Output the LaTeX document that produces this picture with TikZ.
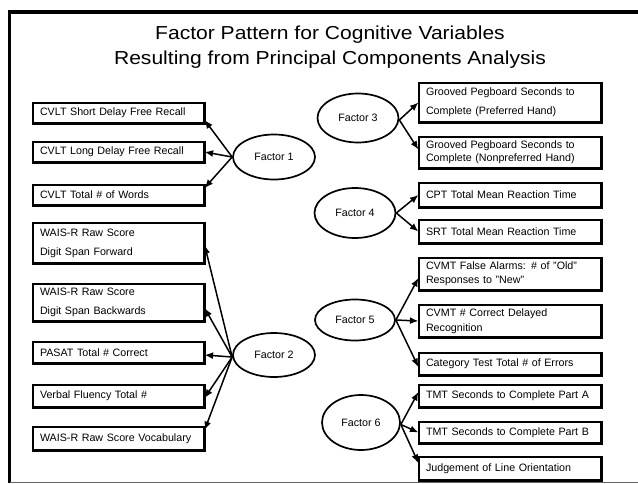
\documentclass[tikz,border=0pt]{standalone}
\usepackage{fontspec}
\usepackage{graphicx}
\setmainfont{Liberation Sans}
\usetikzlibrary{arrows.meta,shapes.geometric}

\begin{document}
\begin{tikzpicture}[x=1pt,y=-1pt,
  item/.style={draw, line width=1.2pt, rectangle, inner xsep=7pt, inner ysep=0pt,
    align=left, font=\fontsize{10.7}{12.6}\selectfont},
  leftitem/.style={item, text width=157pt},
  rightitem/.style={item, text width=168pt},
  factor/.style={draw, ellipse, line width=1.7pt, inner sep=0pt,
    font=\fontsize{10.7}{12.6}\selectfont},
  link/.style={line width=1.5pt, -{Latex[length=8.5pt,width=7pt]}},
  heading/.style={font=\fontsize{18.8}{22}\selectfont, anchor=base},
  shadowedge/.style={line width=1.6pt}
]
\useasboundingbox (0,0) rectangle (638,483);

% outer frame (left, top, bottom rule)
\draw[line width=3.5pt] (9.5,483) -- (9.5,12) -- (638,12);
\draw[line width=0.8pt, black!60] (9.5,482) -- (638,482);

% heading
\node[heading] (t1) at (330,39.5) {\scalebox{1.12}[1]{Factor Pattern for Cognitive Variables}};
\node[heading] (t2) at (330,64) {\scalebox{1.12}[1]{Resulting from Principal Components Analysis}};

% left column of variables
\node[leftitem, minimum height=20pt] (b1) at (118.5,113) {CVLT Short Delay Free Recall};
\node[leftitem, minimum height=20pt] (b2) at (118.5,152) {CVLT Long Delay Free Recall};
\node[leftitem, minimum height=20pt] (b3) at (118.5,195) {CVLT Total \# of Words};
\node[leftitem, minimum height=40pt] (b4) at (118.5,243) {WAIS-R Raw Score\\[6.4pt]Digit Span Forward};
\node[leftitem, minimum height=37pt] (b5) at (118.5,302.5) {WAIS-R Raw Score\\[6.4pt]Digit Span Backwards};
\node[leftitem, minimum height=21pt] (b6) at (118.5,352.5) {PASAT Total \# Correct};
\node[leftitem, minimum height=22pt] (b7) at (118.5,396) {Verbal Fluency Total \#};
\node[leftitem, minimum height=23pt] (b8) at (118.5,438.5) {WAIS-R Raw Score Vocabulary};

% right column of variables
\node[rightitem, minimum height=39pt] (g1) at (510,102.5) {Grooved Pegboard Seconds to\\[6.4pt]Complete (Preferred Hand)};
\node[rightitem, minimum height=31pt] (g2) at (510,152.5) {Grooved Pegboard Seconds to\\Complete (Nonpreferred Hand)};
\node[rightitem, minimum height=24pt] (c1) at (510,195) {CPT Total Mean Reaction Time};
\node[rightitem, minimum height=23pt] (c2) at (510,231.5) {SRT Total Mean Reaction Time};
\node[rightitem, minimum height=32pt] (m1) at (510,274) {CVMT False Alarms: \# of \symbol{34}Old\symbol{34}\\[1.4pt]Responses to \symbol{34}New\symbol{34}};
\node[rightitem, minimum height=32pt] (m2) at (510,321) {CVMT \# Correct Delayed\\[2.4pt]Recognition};
\node[rightitem, minimum height=22pt] (m3) at (510,364) {Category Test Total \# of Errors};
\node[rightitem, minimum height=22pt] (r1) at (510,396) {TMT Seconds to Complete Part A};
\node[rightitem, minimum height=21pt] (r2) at (510,432.5) {TMT Seconds to Complete Part B};
\node[rightitem, minimum height=23pt] (r3) at (510,468.5) {Judgement of Line Orientation};

% heavier right and bottom edges of every box
\foreach \n in {b1,b2,b3,b4,b5,b6,b7,b8,g1,g2,c1,c2,m1,m2,m3,r1,r2,r3}
  \draw[shadowedge] ([xshift=0.7pt]\n.north east) -- ([xshift=0.7pt,yshift=-0.7pt]\n.south east)
    -- ([yshift=-0.7pt]\n.south west);

% factors
\node[factor, minimum width=82pt, minimum height=45pt] (f1) at (274,157) {Factor 1};
\node[factor, minimum width=82pt, minimum height=44pt] (f2) at (274,355) {Factor 2};
\node[factor, minimum width=81pt, minimum height=49pt] (f3) at (358,118) {Factor 3};
\node[factor, minimum width=81pt, minimum height=50pt] (f4) at (355,213) {Factor 4};
\node[factor, minimum width=80pt, minimum height=41pt] (f5) at (355,320) {Factor 5};
\node[factor, minimum width=78pt, minimum height=55pt] (f6) at (361,422.5) {Factor 6};

% loadings
\draw[link] (f1.west) -- ([yshift=-7pt]b1.east);
\draw[link] (f1.west) -- (b2.east);
\draw[link] (f1.west) -- ([yshift=7pt]b3.east);

\draw[link] ([yshift=-2pt]f2.west) -- ([yshift=-2pt]b4.east);
\draw[link] ([yshift=-2pt]f2.west) -- ([yshift=-5.5pt]b5.east);
\draw[link] ([yshift=-2pt]f2.west) -- ([yshift=-2.5pt]b6.east);
\draw[link] ([yshift=-2pt]f2.west) -- ([yshift=-2pt]b7.east);
\draw[link] ([yshift=-2pt]f2.west) -- ([yshift=8.5pt]b8.east);

\draw[link] ([yshift=-2pt]f3.east) -- (g1.west);
\draw[link] ([yshift=-2pt]f3.east) -- ([yshift=3pt]g2.west);

\draw[link] (f4.east) -- (c1.west);
\draw[link] (f4.east) -- (c2.west);

\draw[link] (f5.east) -- ([yshift=-4pt]m1.west);
\draw[link] (f5.east) -- (m2.west);
\draw[link] (f5.east) -- ([yshift=-3pt]m3.west);

\draw[link] ([yshift=-2pt]f6.east) -- ([yshift=4pt]r1.west);
\draw[link] ([yshift=-2pt]f6.east) -- (r2.west);
\draw[link] ([yshift=-2pt]f6.east) -- ([yshift=5.5pt]r3.west);
\end{tikzpicture}
\end{document}
